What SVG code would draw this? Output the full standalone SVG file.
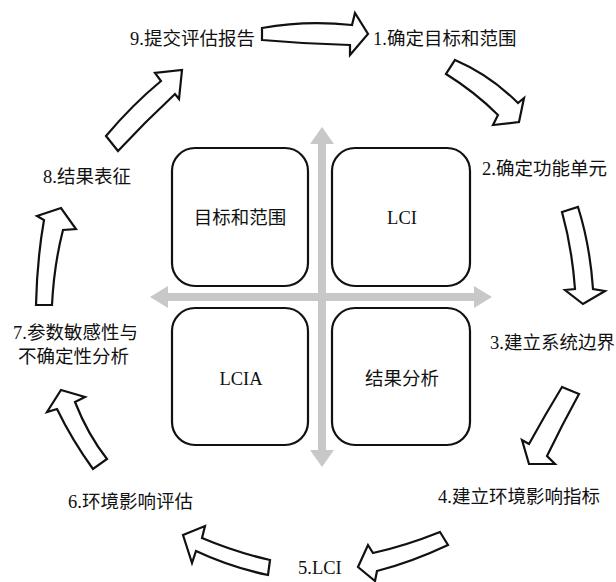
<svg xmlns="http://www.w3.org/2000/svg" width="616" height="582" viewBox="0 0 616 582">
<style>
.bg{fill:#ffffff}
.box{fill:#ffffff;stroke:#111;stroke-width:2.2}
.t{font-family:"Liberation Serif","Noto Sans CJK SC",serif;font-size:18.5px;fill:#111;dominant-baseline:central}
.c{text-anchor:middle}
.arr{fill:#ffffff;stroke:#111;stroke-width:2.2;stroke-linejoin:miter}
.axis{stroke:#c8c8c8;stroke-width:8;fill:none}
.axh{fill:#c8c8c8}
</style>
<rect class="bg" x="0" y="0" width="616" height="582"/>
<g id="axes">
<line class="axis" x1="322" y1="140" x2="322" y2="454"/>
<line class="axis" x1="163" y1="297" x2="479" y2="297"/>
<polygon class="axh" points="322,127 310,144 334,144"/>
<polygon class="axh" points="322,467 310,450 334,450"/>
<polygon class="axh" points="150,297 168,286 168,308"/>
<polygon class="axh" points="492,297 474,286 474,308"/>
</g>
<g id="box-goal"><rect class="box" x="172" y="148" width="136" height="138" rx="23"/><text class="t c" x="240" y="218">目标和范围</text></g>
<g id="box-lci"><rect class="box" x="332" y="148" width="138" height="138" rx="23"/><text class="t c" x="402" y="218">LCI</text></g>
<g id="box-lcia"><rect class="box" x="172" y="308" width="136" height="137" rx="23"/><text class="t c" x="241" y="379">LCIA</text></g>
<g id="box-result"><rect class="box" x="332" y="308" width="138" height="137" rx="23"/><text class="t c" x="402" y="379">结果分析</text></g>
<g id="step1"><text class="t" x="373" y="39">1.确定目标和范围</text></g>
<g id="step2"><text class="t" x="482" y="169">2.确定功能单元</text></g>
<g id="step3"><text class="t" x="490" y="343">3.建立系统边界</text></g>
<g id="step4"><text class="t" x="438" y="497">4.建立环境影响指标</text></g>
<g id="step5"><text class="t" x="298" y="568">5.LCI</text></g>
<g id="step6"><text class="t" x="68" y="502">6.环境影响评估</text></g>
<g id="step7"><text class="t" x="13" y="333">7.参数敏感性与</text><text class="t" x="18" y="357">不确定性分析</text></g>
<g id="step8"><text class="t" x="43" y="177">8.结果表征</text></g>
<g id="step9"><text class="t" x="130" y="39">9.提交评估报告</text></g>
<g id="connectors">
<path class="arr" d="M262,28 Q306,20 352,25 L355,13 L368,34 L350,55 L350,45 Q306,44 262,40 Z"/>
<path class="arr" d="M455,60 Q490,75 518,103 L524,98 L519,122 L493,125 L498,115 Q475,92 446,74 Z"/>
<path class="arr" d="M562,212 L578,207 Q590,245 593,289 L605,291 L583,304 L565,290 L575,289 Q572,248 562,212 Z"/>
<path class="arr" d="M562,387 L579,394 Q562,425 547,456 L555,464 L529,464 L522,440 L529,444 Q545,415 562,387 Z"/>
<path class="arr" d="M440,532 Q405,546 373,553 L368,545 L358,567 L375,581 L377,571 Q412,562 448,545 Z"/>
<path class="arr" d="M183,535 L205,526 L202,538 Q235,552 270,560 L268,575 Q230,567 196,551 L192,563 Z"/>
<path class="arr" d="M47,412 L61,390 L85,397 L75,402 Q88,435 107,459 L93,469 Q72,440 57,409 Z"/>
<path class="arr" d="M36,305 Q37,260 44,220 L37,216 L61,208 L76,229 L63,230 Q54,265 52,305 Z"/>
<path class="arr" d="M106,136 Q132,105 161,81 L155,73 L182,70 L179,99 L175,94 Q145,122 118,151 Z"/>
</g>
</svg>
